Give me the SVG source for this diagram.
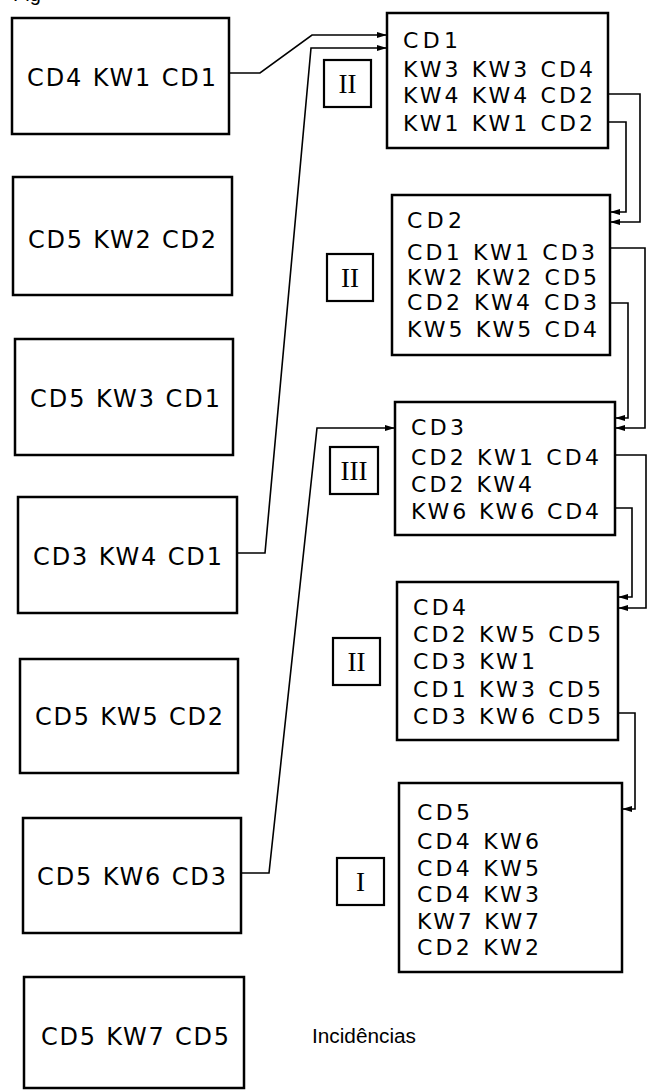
<svg xmlns="http://www.w3.org/2000/svg" width="649" height="1091" viewBox="0 0 649 1091">
<style>
  .box{fill:#fff;stroke:#000;stroke-width:2.5}
  .rbox{fill:#fff;stroke:#000;stroke-width:2.2}
  .lt{font-family:"DejaVu Sans","Liberation Sans",Arial,sans-serif;font-size:24px;fill:#000}
  .rt{font-family:"DejaVu Sans","Liberation Sans",Arial,sans-serif;font-size:22px;fill:#000}
  .rn{font-family:"Liberation Serif","Times New Roman",serif;font-size:27px;fill:#000;text-anchor:middle}
  .cap{font-family:"Liberation Sans",Arial,sans-serif;font-size:20px;fill:#000}
  .con{fill:none;stroke:#000;stroke-width:1.6;marker-end:url(#ah)}
</style>
<defs>
  <marker id="ah" viewBox="0 0 10 6" refX="10" refY="3" markerWidth="10" markerHeight="6" markerUnits="userSpaceOnUse" orient="auto">
    <path d="M0,0 L10,3 L0,6 z" fill="#000"/>
  </marker>
</defs>
<rect width="649" height="1091" fill="#fff"/>
<text class="cap" x="13" y="1" font-size="22">Fig</text>

<g id="left1"><rect class="box" x="12" y="18" width="217" height="116"/><text class="lt" x="27" y="86" textLength="189" lengthAdjust="spacing">CD4 KW1 CD1</text></g>
<g id="left2"><rect class="box" x="13" y="177" width="219" height="118"/><text class="lt" x="28" y="248" textLength="188" lengthAdjust="spacing">CD5 KW2 CD2</text></g>
<g id="left3"><rect class="box" x="15" y="339" width="218" height="116"/><text class="lt" x="30" y="407" textLength="190" lengthAdjust="spacing">CD5 KW3 CD1</text></g>
<g id="left4"><rect class="box" x="18" y="497" width="219" height="116"/><text class="lt" x="33" y="565" textLength="189" lengthAdjust="spacing">CD3 KW4 CD1</text></g>
<g id="left5"><rect class="box" x="20" y="659" width="218" height="114"/><text class="lt" x="35" y="725" textLength="188" lengthAdjust="spacing">CD5 KW5 CD2</text></g>
<g id="left6"><rect class="box" x="23" y="818" width="218" height="115"/><text class="lt" x="37" y="885" textLength="189" lengthAdjust="spacing">CD5 KW6 CD3</text></g>
<g id="left7"><rect class="box" x="24" y="977" width="220" height="111"/><text class="lt" x="41" y="1045" textLength="188" lengthAdjust="spacing">CD5 KW7 CD5</text></g>

<g id="cd1">
  <rect class="box" x="387" y="13" width="221" height="135"/>
  <text class="rt" x="403" y="48" textLength="55" lengthAdjust="spacing">CD1</text>
  <text class="rt" x="403" y="77" textLength="190" lengthAdjust="spacing">KW3 KW3 CD4</text>
  <text class="rt" x="403" y="103" textLength="190" lengthAdjust="spacing">KW4 KW4 CD2</text>
  <text class="rt" x="403" y="131" textLength="190" lengthAdjust="spacing">KW1 KW1 CD2</text>
</g>
<g id="cd2">
  <rect class="box" x="392" y="195" width="218" height="160"/>
  <text class="rt" x="407" y="228" textLength="55" lengthAdjust="spacing">CD2</text>
  <text class="rt" x="407" y="260" textLength="188" lengthAdjust="spacing">CD1 KW1 CD3</text>
  <text class="rt" x="407" y="285" textLength="190" lengthAdjust="spacing">KW2 KW2 CD5</text>
  <text class="rt" x="407" y="310" textLength="190" lengthAdjust="spacing">CD2 KW4 CD3</text>
  <text class="rt" x="407" y="337" textLength="190" lengthAdjust="spacing">KW5 KW5 CD4</text>
</g>
<g id="cd3">
  <rect class="box" x="395" y="402" width="220" height="133"/>
  <text class="rt" x="411" y="435" textLength="53" lengthAdjust="spacing">CD3</text>
  <text class="rt" x="411" y="465" textLength="188" lengthAdjust="spacing">CD2 KW1 CD4</text>
  <text class="rt" x="411" y="492" textLength="121" lengthAdjust="spacing">CD2 KW4</text>
  <text class="rt" x="411" y="519" textLength="188" lengthAdjust="spacing">KW6 KW6 CD4</text>
</g>
<g id="cd4">
  <rect class="box" x="397" y="582" width="221" height="158"/>
  <text class="rt" x="413" y="615" textLength="53" lengthAdjust="spacing">CD4</text>
  <text class="rt" x="413" y="642" textLength="188" lengthAdjust="spacing">CD2 KW5 CD5</text>
  <text class="rt" x="413" y="669" textLength="122" lengthAdjust="spacing">CD3 KW1</text>
  <text class="rt" x="413" y="697" textLength="188" lengthAdjust="spacing">CD1 KW3 CD5</text>
  <text class="rt" x="413" y="724" textLength="188" lengthAdjust="spacing">CD3 KW6 CD5</text>
</g>
<g id="cd5">
  <rect class="box" x="399" y="783" width="223" height="189"/>
  <text class="rt" x="417" y="820" textLength="53" lengthAdjust="spacing">CD5</text>
  <text class="rt" x="417" y="849" textLength="122" lengthAdjust="spacing">CD4 KW6</text>
  <text class="rt" x="417" y="876" textLength="122" lengthAdjust="spacing">CD4 KW5</text>
  <text class="rt" x="417" y="902" textLength="122" lengthAdjust="spacing">CD4 KW3</text>
  <text class="rt" x="417" y="929" textLength="122" lengthAdjust="spacing">KW7 KW7</text>
  <text class="rt" x="417" y="955" textLength="122" lengthAdjust="spacing">CD2 KW2</text>
</g>

<g id="rank1"><rect class="rbox" x="324" y="60" width="47" height="47"/><text class="rn" x="347.5" y="93">II</text></g>
<g id="rank2"><rect class="rbox" x="327" y="254" width="46" height="47"/><text class="rn" x="350" y="287">II</text></g>
<g id="rank3"><rect class="rbox" x="330" y="447" width="48" height="47"/><text class="rn" x="354" y="480">III</text></g>
<g id="rank4"><rect class="rbox" x="333" y="638" width="47" height="47"/><text class="rn" x="356.5" y="671">II</text></g>
<g id="rank5"><rect class="rbox" x="337" y="858" width="47" height="47"/><text class="rn" x="360.5" y="891">I</text></g>

<g id="caption"><text class="cap" x="312" y="1043" textLength="104" lengthAdjust="spacingAndGlyphs">Incidências</text></g>

<g id="connectors">
  <path class="con" d="M229,73 H260 L312,35 H387"/>
  <path class="con" d="M237,553 H265 L311,48 H387"/>
  <path class="con" d="M241,873 H269 L317,428 H395"/>
  <path class="con" d="M608,94 H640 V222 H610"/>
  <path class="con" d="M608,122 H626 V212 H610"/>
  <path class="con" d="M610,248 H645 V428 H615"/>
  <path class="con" d="M610,303 H628 V418 H615"/>
  <path class="con" d="M615,455 H646 V608 H618"/>
  <path class="con" d="M615,508 H632 V597 H618"/>
  <path class="con" d="M618,713 H635 V809 H622"/>
</g>
</svg>
